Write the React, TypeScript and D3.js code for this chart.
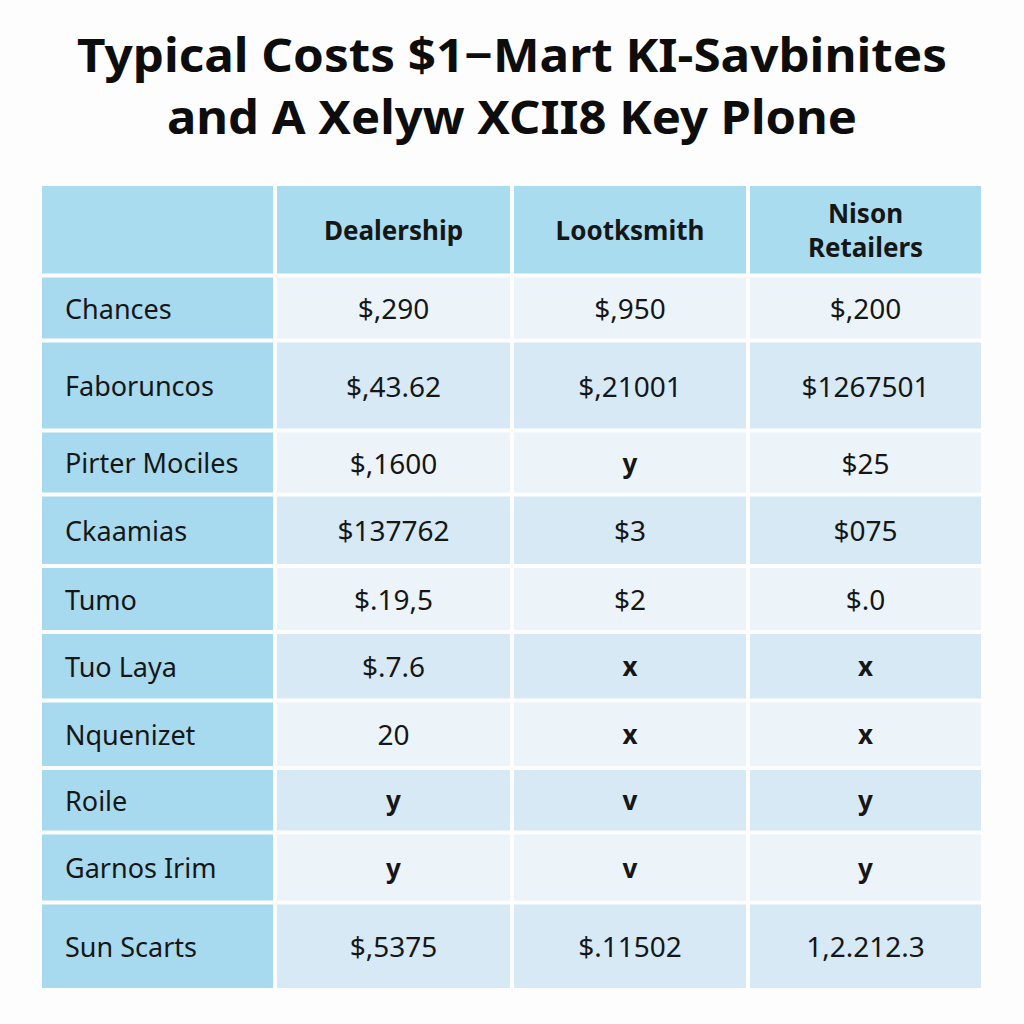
import * as d3 from "d3";
import { useEffect, useRef } from "react";

const titleLines = ["Typical Costs $1\u2212Mart KI-Savbinites", "and A  Xelyw XCII8 Key Plone"];
const columns = ["Dealership", "Lootksmith", "Nison\nRetailers"];
const rowLabels = [
  "Chances", "Faboruncos", "Pirter Mociles", "Ckaamias", "Tumo",
  "Tuo Laya", "Nquenizet", "Roile", "Garnos Irim", "Sun Scarts",
];
const dealership = ["$,290", "$,43.62", "$,1600", "$137762", "$.19,5", "$.7.6", "20", "y", "y", "$,5375"];
const locksmith = ["$,950", "$,21001", "y", "$3", "$2", "x", "x", "v", "v", "$.11502"];
const nison = ["$,200", "$1267501", "$25", "$075", "$.0", "x", "x", "y", "y", "1,2.212.3"];

// layout (pixels)
const W = 1024, H = 1024;
const colEdges = [42, 275, 512, 748, 981];
const headerTop = 186;
const rowHeights = [89.5, 65, 90, 64, 71.5, 66, 68.5, 67.5, 64.5, 70, 85.5];
const gap = 4;
const marks = new Set(["x", "y", "v"]);

const App = () => {
  const svgRef = useRef(null);

  useEffect(() => {
    const svg = d3.select(svgRef.current);
    svg.selectAll("*").remove();

    svg.append("rect").attr("width", W).attr("height", H).attr("fill", "#fdfdfd");

    // title
    svg.append("g").selectAll("text").data(titleLines).join("text")
      .attr("x", W / 2)
      .attr("y", (d, i) => 72 + i * 62)
      .attr("text-anchor", "middle")
      .attr("font-family", "'Noto Sans', 'Open Sans', sans-serif")
      .attr("font-weight", 700)
      .attr("font-size", 46)
      .attr("textLength", (d, i) => i === 0 ? 870 : 690)
      .attr("lengthAdjust", "spacingAndGlyphs")
      .attr("fill", "#0d0d0d")
      .text(d => d);

    const rowTops = d3.cumsum([headerTop, ...rowHeights.slice(0, -1)]);
    const rows = rowHeights.map((h, i) => ({ y: rowTops[i], h }));

    const table = rowLabels.map((l, i) => [l, dealership[i], locksmith[i], nison[i]]);
    const all = [["", ...columns], ...table];

    const g = svg.append("g");
    all.forEach((row, ri) => {
      const r = rows[ri];
      row.forEach((cell, ci) => {
        const x0 = colEdges[ci] + (ci === 0 ? 0 : gap / 2);
        const x1 = colEdges[ci + 1] - (ci === 3 ? 0 : gap / 2);
        const y0 = r.y + (ri === 0 ? 0 : gap / 2);
        const y1 = r.y + r.h - (ri === all.length - 1 ? 0 : gap / 2);
        let fill;
        if (ri === 0) fill = "#a9dcef";
        else if (ci === 0) fill = "#a7daee";
        else fill = ri % 2 === 1 ? "#ecf4fa" : "#d6e9f5";
        g.append("rect").attr("x", x0).attr("y", y0)
          .attr("width", x1 - x0).attr("height", y1 - y0).attr("fill", fill);

        const cy = (y0 + y1) / 2;
        const t = g.append("text")
          .attr("font-family", "'Noto Sans', 'Open Sans', sans-serif")
          .attr("fill", "#161616")
          .attr("dominant-baseline", "central");
        if (ri === 0) {
          const lines = cell.split("\n");
          t.attr("x", (x0 + x1) / 2).attr("text-anchor", "middle")
            .attr("font-weight", 700).attr("font-size", 26);
          lines.forEach((ln, li) => {
            t.append("tspan").attr("x", (x0 + x1) / 2)
              .attr("y", cy + (li - (lines.length - 1) / 2) * 34)
              .text(ln);
          });
        } else if (ci === 0) {
          t.attr("x", 65).attr("y", cy).attr("font-size", 27).text(cell);
        } else if (marks.has(cell)) {
          t.attr("x", (x0 + x1) / 2).attr("y", cy).attr("text-anchor", "middle")
            .attr("font-weight", 700).attr("font-size", 26).text(cell);
        } else {
          t.attr("x", (x0 + x1) / 2).attr("y", cy).attr("text-anchor", "middle")
            .attr("font-size", 28).text(cell);
        }
      });
    });
  }, []);

  return (
    <svg ref={svgRef} width={W} height={H}
      style={{ position: "absolute", left: 0, top: 0, display: "block" }} />
  );
};

export default App;
